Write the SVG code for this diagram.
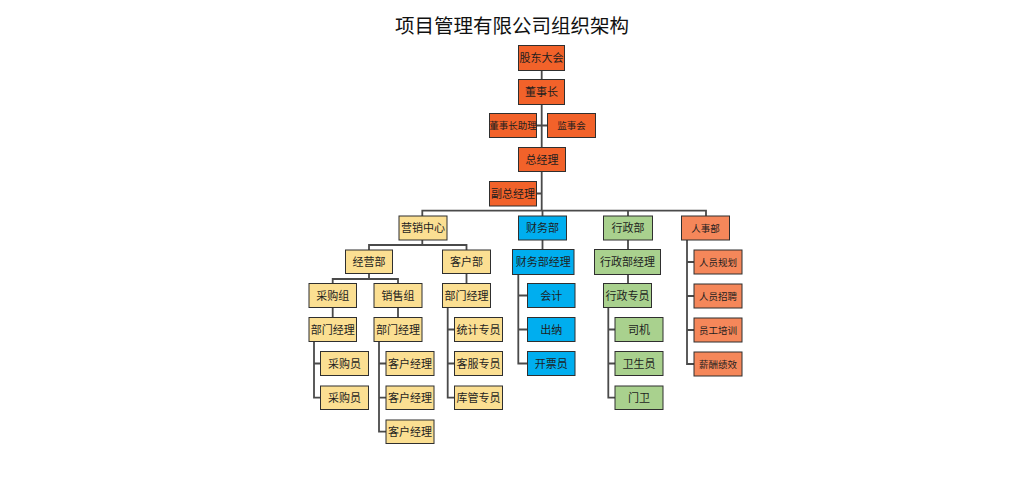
<svg xmlns="http://www.w3.org/2000/svg" width="1024" height="483" viewBox="0 0 1024 483">
<style>
.t{font-family:"Noto Sans CJK SC","Liberation Sans",sans-serif;font-size:11px;fill:#1e1e1e;text-anchor:middle}
.s{font-size:9.5px}
g rect{stroke:#2f2f2f;stroke-width:1}
.o rect{fill:#F2622A}
.y rect{fill:#FBDF92}
.b rect{fill:#00AEEF}
.g rect{fill:#A9D18E}
.r rect{fill:#F5875A}
#connectors path{fill:none;stroke:#4a4a4a;stroke-width:1.8}
</style>
<rect width="1024" height="483" fill="#ffffff"/>
<text x="512" y="33" style="font-family:'Noto Sans CJK SC','Liberation Sans',sans-serif;font-size:19.5px;fill:#111;text-anchor:middle">项目管理有限公司组织架构</text>
<g id="connectors">
<path d="M541.7 70.5V210.7M536.5 125.5H547.5M536.5 193.5H541.7"/>
<path d="M422.3 216V210.7H706V216M542.5 210.7V216M628 210.7V216"/>
<path d="M422.3 240V245M369 250V245H466.5V250"/>
<path d="M369 273.5V279M332.7 283.5V279H398V283.5"/>
<path d="M466.5 273.5V283.5M332.7 307.5V317.5M398 307.5V317.5"/>
<path d="M314 341.5V397.7H320.5M314 363.5H320.5"/>
<path d="M379 341.5V431.7H386M379 363.5H386M379 397.7H386"/>
<path d="M447.7 307.5V397.7H454.5M447.7 329.5H454.5M447.7 363.5H454.5"/>
<path d="M542.5 240V249.5M518.3 274.5V363.5H527.5M518.3 295.5H527.5M518.3 329.5H527.5"/>
<path d="M628 240V249.5M628 274.5V283.5M608.3 307.5V397.7H615M608.3 329.5H615M608.3 363.5H615"/>
<path d="M687 240V364H694M687 262H694M687 296H694M687 330H694"/>
</g>
<g id="n1" class="o"><rect x="518.5" y="45.5" width="46" height="25"/><text class="t" x="541.5" y="62">股东大会</text></g>
<g id="n2" class="o"><rect x="518.5" y="79.5" width="46" height="25"/><text class="t" x="541.5" y="96">董事长</text></g>
<g id="n3" class="o"><rect x="489.5" y="113.5" width="47" height="24"/><text class="t s" x="513" y="129">董事长助理</text></g>
<g id="n4" class="o"><rect x="547.5" y="113.5" width="48" height="24"/><text class="t s" x="571.5" y="129">监事会</text></g>
<g id="n5" class="o"><rect x="518.5" y="147.5" width="47" height="24"/><text class="t" x="542" y="163.5">总经理</text></g>
<g id="n6" class="o"><rect x="489.5" y="181.5" width="47" height="24.5"/><text class="t" x="513" y="197.5">副总经理</text></g>
<g id="n7" class="y"><rect x="399" y="216" width="48" height="24"/><text class="t" x="423" y="232">营销中心</text></g>
<g id="n8" class="b"><rect x="518.5" y="216" width="48" height="24"/><text class="t" x="542.5" y="232">财务部</text></g>
<g id="n9" class="g"><rect x="603.5" y="216" width="49" height="24"/><text class="t" x="628" y="232">行政部</text></g>
<g id="n10" class="r"><rect x="681.5" y="216" width="48" height="24"/><text class="t s" x="705.5" y="231.5">人事部</text></g>
<g id="n11" class="y"><rect x="345.5" y="250" width="47" height="23.5"/><text class="t" x="369" y="265.5">经营部</text></g>
<g id="n12" class="y"><rect x="442.5" y="250" width="48" height="23.5"/><text class="t" x="466.5" y="265.5">客户部</text></g>
<g id="n13" class="b"><rect x="512.5" y="249.5" width="61.5" height="25"/><text class="t" x="543.2" y="266">财务部经理</text></g>
<g id="n14" class="g"><rect x="594.5" y="249.5" width="66" height="25"/><text class="t" x="627.5" y="266">行政部经理</text></g>
<g id="n15" class="r"><rect x="694" y="250" width="48" height="24"/><text class="t s" x="718" y="265.5">人员规划</text></g>
<g id="n16" class="y"><rect x="309" y="283.5" width="47.5" height="24"/><text class="t" x="332.7" y="299.5">采购组</text></g>
<g id="n17" class="y"><rect x="374" y="283.5" width="48" height="24"/><text class="t" x="398" y="299.5">销售组</text></g>
<g id="n18" class="y"><rect x="442.5" y="283.5" width="48" height="24"/><text class="t" x="466.5" y="299.5">部门经理</text></g>
<g id="n19" class="b"><rect x="527.5" y="283.5" width="47.5" height="24"/><text class="t" x="551.2" y="299.5">会计</text></g>
<g id="n20" class="g"><rect x="603.5" y="283.5" width="48" height="24"/><text class="t" x="627.5" y="299.5">行政专员</text></g>
<g id="n21" class="r"><rect x="694" y="284" width="48" height="24"/><text class="t s" x="718" y="299.5">人员招聘</text></g>
<g id="n22" class="y"><rect x="309" y="317.5" width="47.5" height="24"/><text class="t" x="332.7" y="333.5">部门经理</text></g>
<g id="n23" class="y"><rect x="374" y="317.5" width="48" height="24"/><text class="t" x="398" y="333.5">部门经理</text></g>
<g id="n24" class="y"><rect x="454.5" y="317.5" width="48" height="24"/><text class="t" x="478.5" y="333.5">统计专员</text></g>
<g id="n25" class="b"><rect x="527.5" y="317.5" width="47.5" height="24"/><text class="t" x="551.2" y="333.5">出纳</text></g>
<g id="n26" class="g"><rect x="615" y="317.5" width="48" height="24"/><text class="t" x="639" y="333.5">司机</text></g>
<g id="n27" class="r"><rect x="694" y="318" width="48" height="24"/><text class="t s" x="718" y="333.5">员工培训</text></g>
<g id="n28" class="y"><rect x="320.5" y="351.5" width="48" height="24"/><text class="t" x="344.5" y="367.5">采购员</text></g>
<g id="n29" class="y"><rect x="386" y="351.5" width="48" height="24"/><text class="t" x="410" y="367.5">客户经理</text></g>
<g id="n30" class="y"><rect x="454.5" y="351.5" width="48" height="24"/><text class="t" x="478.5" y="367.5">客服专员</text></g>
<g id="n31" class="b"><rect x="527.5" y="351.5" width="47.5" height="24"/><text class="t" x="551.2" y="367.5">开票员</text></g>
<g id="n32" class="g"><rect x="615" y="351.5" width="48" height="24"/><text class="t" x="639" y="367.5">卫生员</text></g>
<g id="n33" class="r"><rect x="694" y="352" width="48" height="24"/><text class="t s" x="718" y="367.5">薪酬绩效</text></g>
<g id="n34" class="y"><rect x="320.5" y="386" width="48" height="23.5"/><text class="t" x="344.5" y="401.5">采购员</text></g>
<g id="n35" class="y"><rect x="386" y="386" width="48" height="23.5"/><text class="t" x="410" y="401.5">客户经理</text></g>
<g id="n36" class="y"><rect x="454.5" y="386" width="48" height="23.5"/><text class="t" x="478.5" y="401.5">库管专员</text></g>
<g id="n37" class="g"><rect x="615" y="386" width="48" height="23.5"/><text class="t" x="639" y="401.5">门卫</text></g>
<g id="n38" class="y"><rect x="386" y="420" width="48" height="23.5"/><text class="t" x="410" y="435.5">客户经理</text></g>
</svg>
